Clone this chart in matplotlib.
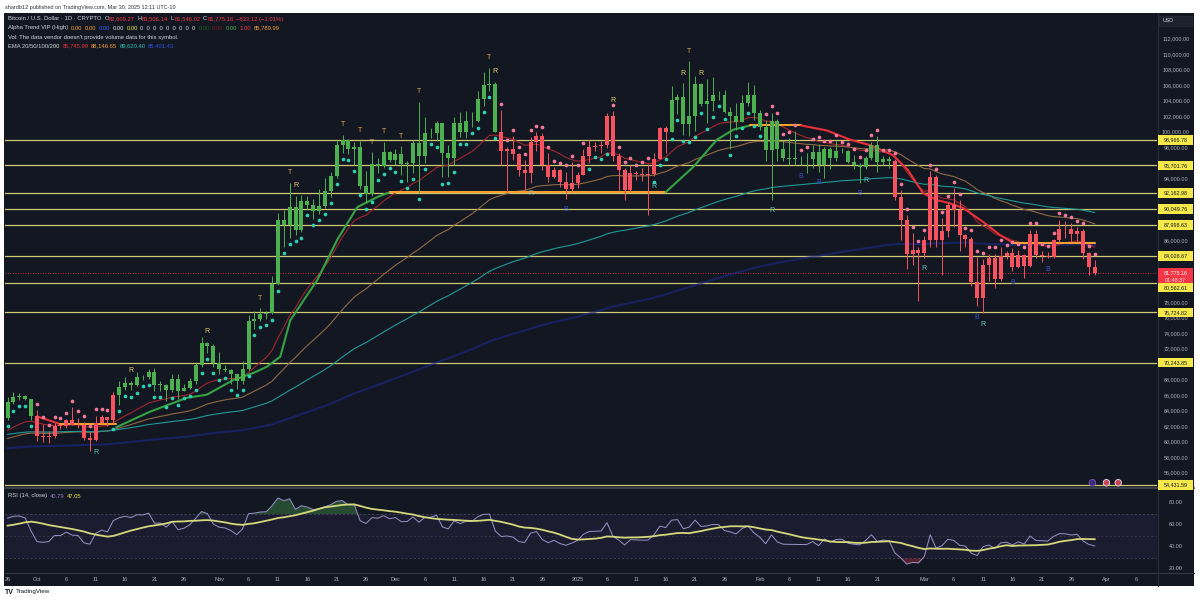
import numpy as np
import pandas as pd
import matplotlib
matplotlib.use('Agg')
import matplotlib.pyplot as plt
from matplotlib.patches import Rectangle
from matplotlib.lines import Line2D
from matplotlib.transforms import blended_transform_factory

plt.rcParams['font.family'] = ['Liberation Sans', 'DejaVu Sans']

# daily closes Aug 29 - Sep 25 2024, only used to warm up RSI / EMA
warmup_closes = [59370, 59120, 58970, 57330, 59120, 57480, 57970, 56160, 53960, 54140,
                 54840, 57020, 57650, 57340, 58130, 60570, 60010, 59130, 58210, 60310,
                 61760, 62950, 63190, 63350, 63580, 63340, 64280, 63140]

# BTCUSD 1D, Sep 26 2024 -> Mar 30 2025 (open = previous close)
closes = [
    65180, 65790, 65890, 65600, 63330,
    60800, 60630, 60750, 62080, 62060, 62820, 62220, 62130, 60580, 60270,
    62440, 63200, 62850, 66050, 67040, 67610, 67380, 68400, 68360, 69000,
    67360, 67370, 66680, 68160, 66640, 67010, 67930, 69900, 72720, 72340, 70220,
    69480, 69330, 68740, 67810, 69360, 75640, 75900, 76540, 76680, 80370,
    88700, 87950, 90380, 87300, 91060, 90580, 89850, 90460, 92340, 94340,
    98360, 98990, 97780, 98010, 93010, 91960, 95860, 95640, 97460, 96410,
    97190, 95840, 95950, 98580, 96890, 99830, 99920, 101170, 97320, 96590,
    101120, 100040, 101460, 101370, 104300, 106030, 106140, 100040, 97490, 97750,
    97220, 95100, 94690, 98680, 99430, 95790, 94160, 95160, 93530, 92640, 93430,
    94420, 96890, 98110, 98230, 98310, 102080, 96920, 95040, 92480, 94700,
    94570, 94490, 94520, 96530, 100500, 99990, 104080, 104460, 101090, 102020,
    106150, 103650, 103960, 104820, 104710, 102590, 102080, 101320, 103700, 104740, 102410,
    100650, 97690, 101400, 97870, 96620, 96550, 96530, 96480, 96500, 97400,
    95750, 97870, 96620, 97500, 97570, 96130, 95770, 95540, 96640, 98330,
    96120, 96560, 96270, 91550, 88690, 84250, 84710, 84370,
    86030, 94250, 86120, 87220, 90620, 89960, 86740, 86150, 80600, 78530,
    82860, 83720, 81070, 83970, 84340, 82580, 84080, 82720, 86850, 84170,
    84040, 83830, 86080, 87500, 87420, 86900, 87230, 84350, 82609.27, 81775.16,
]
highs = [
    65800, 66480, 66260, 66080, 65600,
    64130, 62370, 61450, 62450, 62360, 62980, 64470, 63150, 62540, 61300,
    63400, 63480, 63290, 66490, 67890, 68390, 67930, 68970, 68680, 69380,
    69510, 67820, 67440, 68800, 68750, 67420, 68220, 70200, 73560, 72940, 72660,
    71590, 69890, 69390, 68860, 70510, 76400, 76850, 77230, 76960, 81480,
    89560, 89950, 93430, 91760, 91850, 91760, 91400, 92600, 94000, 94890,
    98960, 99660, 99100, 98670, 98900, 94990, 97380, 96600, 98700, 97600,
    97850, 98150, 96300, 99000, 103900, 101900, 100500, 101380, 101200, 98300,
    101900, 102540, 102650, 102600, 105230, 107780, 108270, 106500, 102790, 98120,
    99500, 97320, 96400, 99400, 99960, 99900, 97300, 95500, 95200, 94900, 96100,
    94900, 97800, 98950, 98730, 98800, 102480, 102700, 97250, 95350, 95800,
    94980, 95350, 95880, 97350, 100700, 100800, 105900, 104900, 106300, 109100,
    107200, 106300, 106850, 107100, 105300, 105470, 103200, 103800, 104800, 106450, 106000,
    102800, 101500, 102500, 101700, 99000, 99200, 100100, 96880, 97300, 98300,
    98500, 98100, 98000, 98800, 97950, 97700, 97000, 96000, 96900, 98750,
    99500, 96900, 96900, 96500, 92500, 89300, 87000, 85100,
    86550, 95000, 94400, 88900, 91000, 92800, 91200, 86850, 86500, 83900,
    83600, 84300, 84300, 85200, 84650, 85000, 84750, 84300, 87400, 87400,
    84700, 84500, 86200, 88700, 88500, 88200, 87700, 87500, 84500, 83506.14,
]
lows = [
    62900, 64850, 65450, 65440, 62850,
    60170, 59990, 59840, 60460, 61670, 61820, 62130, 61830, 60300, 58900,
    60070, 62400, 62060, 62430, 64820, 66720, 66670, 67180, 68030, 68100,
    66580, 66570, 65260, 66500, 65510, 66520, 66780, 67450, 69740, 71480, 69690,
    68800, 69050, 67490, 66830, 67460, 69300, 74560, 75600, 75840, 76520,
    80230, 85180, 86300, 86700, 87100, 90100, 88800, 89420, 90200, 91600,
    94080, 97290, 97140, 95790, 92630, 90800, 91800, 94650, 95380, 96100,
    95690, 94500, 93600, 94690, 92120, 95990, 99280, 98890, 94150, 94250,
    95700, 99300, 99240, 100650, 101300, 103320, 105300, 100000, 95700, 92230,
    96400, 94300, 92500, 93420, 97580, 95150, 93500, 94100, 92950, 91350, 92300,
    92800, 94400, 96000, 97550, 97300, 97960, 96200, 92500, 91200, 92200,
    93850, 93700, 89260, 94320, 96500, 97300, 99950, 102300, 99600, 99500,
    100100, 103300, 101200, 102750, 104100, 102460, 97800, 100270, 101300, 103300, 101600,
    100300, 96200, 91230, 96200, 96200, 95700, 95700, 95700, 94750, 95300,
    94900, 94100, 95250, 96300, 97250, 96050, 95250, 93400, 95200, 96450,
    94850, 95800, 95300, 91200, 86100, 82300, 82800, 78200,
    83800, 85100, 85100, 81500, 86400, 87800, 84700, 85100, 80100, 77500,
    76600, 80800, 79900, 80800, 83650, 82000, 82450, 81200, 82600, 83700,
    83200, 83700, 83800, 85800, 86300, 85900, 85900, 83600, 81600, 81546.02,
]

# bar colouring of the Alpha Trend script (index of first day of each run)
trend_starts = [0, 5, 19, 84, 113, 151]
trend_colors = ['g', 'r', 'g', 'r', 'g', 'r']
dot_starts = [0, 5, 18, 84, 99, 103, 110, 129]
dot_sides = ['below', 'above', 'below', 'above', 'below', 'above', 'below', 'above']

levels = [98966.78, 95701.76, 92162.98, 90049.76, 87998.63, 84028.67,
          80562.61, 76724.82, 70243.85, 54431.59]

signal_days = [15, 21, 34, 43, 48, 49, 57, 60, 62, 64, 67, 70, 82, 83, 89, 95,
               103, 110, 115, 116, 118, 130, 135, 138, 145, 146, 156, 165, 166, 171, 177]
signal_kinds = ['Rt', 'Ry', 'Ry', 'T', 'T', 'Ry', 'T', 'T', 'T', 'T', 'T', 'T', 'T', 'Ry', 'Rg', 'B',
                'Ry', 'Rt', 'Ry', 'T', 'Ry', 'Rt', 'B', 'B', 'B', 'Rt', 'Rt', 'B', 'Rt', 'B', 'B']

# Alpha Trend line: (colour, day index, price)
at_red1_days, at_red1_px = [5, 9], [63300, 62300]
at_org1_days, at_org1_px = [9, 18.5], [62300, 62300]
at_grn1_days = [18.5, 24.2, 30.5, 33.9, 38.4, 41.8, 44.1, 46.4, 48.1, 52.7, 56.1, 59.5, 62.9, 65.1]
at_grn1_px = [61900, 63900, 65700, 66100, 68000, 68900, 69700, 71000, 75700, 80900, 86100, 90300, 91600, 92250]
at_org2_days, at_org2_px = [65.1, 112], [92250, 92250]
at_grn2_days, at_grn2_px = [112, 116.7, 120.7, 123.5, 126.4], [92250, 95500, 99000, 100300, 100850]
at_org3_days, at_org3_px = [126.4, 135], [100850, 100850]
at_red2_days = [135, 139.4, 143.4, 146.8, 150.7, 153.2, 155.8, 158.2, 160.4, 162.6, 166.0, 168.9, 171.1]
at_red2_px = [100850, 100200, 99000, 98300, 97000, 95100, 92100, 91200, 90800, 90200, 88400, 86700, 85700]
at_org4_days, at_org4_px = [171.1, 185], [85700, 85700]

ema_spans = [20, 50, 100, 200]
ema_seeds = [60000, 60600, 61800, 59000]

tick_days = [0, 5, 10, 15, 20, 25, 30, 36, 41, 46, 51, 56, 61, 66, 71, 76, 81, 86, 91,
             97, 102, 107, 112, 117, 122, 128, 133, 138, 143, 148, 156, 161, 166, 171,
             176, 181, 187, 192]
tick_text = ['26', 'Oct', '6', '11', '16', '21', '26', 'Nov', '6', '11', '16', '21', '26',
             'Dec', '6', '11', '16', '21', '26', '2025', '6', '11', '16', '21', '26',
             'Feb', '6', '11', '16', '21', 'Mar', '6', '11', '16', '21', '26', 'Apr', '6']
price_ticks = list(range(112000, 55999, -2000))
rsi_ticks = [80, 60, 40, 20]
event_days = [184.6, 187.0, 189.0]

# ---- styling ----
W, H = 1200, 603
BG = '#131722'
GREEN = '#4caf50'
RED = '#f7525f'
LEVEL = '#cfc872'
TXT = '#b2b5be'
LEG = '#d1d4dc'
EMA_COLORS = ['#a3262e', '#8f6a45', '#1f9a96', '#1c2a8c']
AT_COLORS = {'g': '#35a344', 'o': '#f5a030', 'r': '#e8313b'}
SIG_STYLE = {'T': ('T', '#d9a95a', 'above'), 'Ry': ('R', '#e3d06a', 'above'),
             'Rt': ('R', '#5fc9bd', 'below'), 'Rg': ('R', '#8fb3ae', 'below'),
             'B': ('B', '#3553d0', 'below')}


def frame(x0, y0, x1, y1):
    return [x0 / W, 1 - y1 / H, (x1 - x0) / W, (y1 - y0) / H]


def ftext(x, y, s, color=TXT, size=4.2, **kw):
    return fig.text(x / W, 1 - y / H, s, color=color, fontsize=size, va='center', **kw)


def seq_text(x, y, parts, size=4.2):
    # lay out coloured pieces one after another, measuring each
    r = fig.canvas.get_renderer()
    for txt, col, gap in parts:
        t = ftext(x, y, txt, color=col, size=size)
        x += t.get_window_extent(renderer=r).width + gap


fig = plt.figure(figsize=(12, 6.03), dpi=100)
fig.patch.set_facecolor('white')
fig.add_artist(Rectangle((4 / W, 1 - 586 / H), 1190 / W, 573 / H, transform=fig.transFigure,
                         fc=BG, ec='none', zorder=-5))

ax = fig.add_axes(frame(5, 14, 1157, 487))
ax_r = fig.add_axes(frame(5, 489, 1157, 572))
for a in (ax, ax_r):
    a.set_facecolor(BG)
    a.set_xticks([])
    a.set_yticks([])
    for s in a.spines.values():
        s.set_visible(False)
    a.set_xlim(-0.44, 195.6)
ax.set_ylim(54193.5, 115225.8)
ax_r.set_ylim(17.27, 92.7)

# separators
fig.add_artist(Line2D([5 / W, 1194 / W], [1 - 488 / H] * 2, color='#434651', lw=1.2))
fig.add_artist(Line2D([5 / W, 1194 / W], [1 - 572.5 / H] * 2, color='#363a45', lw=0.8))
fig.add_artist(Line2D([1157.5 / W] * 2, [1 - 14 / H, 1 - 586 / H], color='#2a2e39', lw=0.8))

# ---- derived series ----
n = len(closes)
days = np.arange(n)
c = np.array(closes, dtype=float)
o = np.array([warmup_closes[-1]] + closes[:-1], dtype=float)
h = np.maximum(np.array(highs, dtype=float), np.maximum(o, c))
l = np.minimum(np.array(lows, dtype=float), np.minimum(o, c))

trend = np.empty(n, dtype=object)
for start, col in zip(trend_starts, trend_colors):
    trend[start:] = col
cols = [GREEN if t == 'g' else RED for t in trend]

side = np.empty(n, dtype=object)
for start, sd in zip(dot_starts, dot_sides):
    side[start:] = sd

all_closes = np.array(warmup_closes + closes, dtype=float)
nw = len(warmup_closes)


def ema(values, span, seed):
    k = 2.0 / (span + 1)
    out, e = [], seed
    for v in values:
        e = e + k * (v - e)
        out.append(e)
    return np.array(out)


s = pd.Series(all_closes)
delta = s.diff()
gain = delta.clip(lower=0).ewm(alpha=1 / 14, adjust=False).mean()
loss = (-delta.clip(upper=0)).ewm(alpha=1 / 14, adjust=False).mean()
rsi_all = 100 - 100 / (1 + gain / loss)
rsi_ma_all = rsi_all.rolling(14, min_periods=1).mean()
rsi = rsi_all.values[nw:]
rsi_ma = rsi_ma_all.values[nw:]

# ---- main pane ----
for lv in levels:
    ax.axhline(lv, color=LEVEL, lw=0.9, zorder=2)
ax.axhline(c[-1], color='#f23645', lw=0.6, ls=(0, (1, 2)), zorder=2)

emas = []
for span, seed, col in zip(ema_spans, ema_seeds, EMA_COLORS):
    e = ema(all_closes, span, seed)[nw:]
    emas.append(e)
    if span == 200:
        ax.plot(days, e, color=col, lw=1.5, alpha=0.6, zorder=2.4)
    else:
        ax.plot(days, e, color=col, lw=0.8, zorder=2.5)

for key, ds, ps in [('r', at_red1_days, at_red1_px), ('o', at_org1_days, at_org1_px),
                    ('g', at_grn1_days, at_grn1_px), ('o', at_org2_days, at_org2_px),
                    ('g', at_grn2_days, at_grn2_px), ('o', at_org3_days, at_org3_px),
                    ('r', at_red2_days, at_red2_px), ('o', at_org4_days, at_org4_px)]:
    ax.plot(ds, ps, color=AT_COLORS[key], lw=1.5, zorder=3, solid_capstyle='round')

ax.vlines(days, l, h, colors=cols, lw=0.7, zorder=4)
body_lo = np.minimum(o, c)
body_h = np.maximum(np.abs(c - o), 80)
ax.bar(days, body_h, bottom=body_lo, width=0.68, color=cols, lw=0, zorder=5)

below = side == 'below'
ax.scatter(days[below], l[below] - 800, s=7, color='#2bd1b0', lw=0, zorder=6)
ax.scatter(days[~below], h[~below] + 800, s=7, color='#f27a99', lw=0, zorder=6)

for d, kind in zip(signal_days, signal_kinds):
    letter, col, pos = SIG_STYLE[kind]
    if pos == 'above':
        ax.text(d, h[d] + 1300, letter, color=col, fontsize=5, ha='center', va='center', zorder=7)
    else:
        ax.text(d, l[d] - 1400, letter, color=col, fontsize=5, ha='center', va='center', zorder=7)

ev_tr = blended_transform_factory(ax.transData, ax.transAxes)
ax.scatter(event_days, [0.009] * 3, transform=ev_tr, s=22, c=['#3b2a7a', '#c94456', '#c94456'],
           edgecolors=['#7e57c2', '#e8e8f0', '#e8e8f0'], linewidths=0.6, zorder=8, clip_on=False)

# ---- RSI pane ----
ax_r.axhspan(30, 70, color='#7e57c2', alpha=0.09, lw=0)
for lvl, a in [(70, 0.6), (50, 0.35), (30, 0.6)]:
    ax_r.axhline(lvl, color='#787b86', lw=0.5, ls=(0, (3, 3)), alpha=a)
ax_r.fill_between(days, 70, rsi, where=rsi > 70, interpolate=True, color='#4caf50', alpha=0.35, lw=0)
ax_r.fill_between(days, 30, rsi, where=rsi < 30, interpolate=True, color='#f23645', alpha=0.3, lw=0)
ax_r.plot(days, rsi, color='#9a94c8', lw=0.7, zorder=3)
ax_r.plot(days, rsi_ma, color='#d6d87c', lw=1.3, zorder=4)

# ---- axes labels ----
fig.canvas.draw()
for p in price_ticks:
    yd = ax.transData.transform((0, p))[1]
    fig.text(1176 / W, yd / H, f'{p:,.2f}', color=TXT, fontsize=3.9, ha='center', va='center', zorder=5)
for v in rsi_ticks:
    yd = ax_r.transData.transform((0, v))[1]
    fig.text(1176 / W, yd / H, f'{v:.2f}', color=TXT, fontsize=3.9, ha='center', va='center', zorder=5)

label_shift_px = {80562.61: 5}
for lv in levels:
    yd = ax.transData.transform((0, lv))[1] - label_shift_px.get(lv, 0)
    fig.add_artist(Rectangle((1158 / W, (yd - 4.8) / H), 35 / W, 9.6 / H, transform=fig.transFigure,
                             fc='#f5e84a', ec='none', zorder=6))
    fig.text(1175.5 / W, yd / H, f'{lv:,.2f}', color='#131722', fontsize=3.9,
             ha='center', va='center', zorder=7)

yd = ax.transData.transform((0, c[-1]))[1]
fig.add_artist(Rectangle((1158 / W, (yd - 10) / H), 35 / W, 15.5 / H, transform=fig.transFigure,
                         fc='#f23645', ec='none', zorder=6))
fig.text(1175.5 / W, yd / H, f'{c[-1]:,.2f}', color='white', fontsize=3.9, ha='center', va='center', zorder=7)
fig.text(1175.5 / W, (yd - 7) / H, '01:48:37', color='#fde0e3', fontsize=3.9, ha='center', va='center', zorder=7)

tt = blended_transform_factory(ax_r.transData, ax_r.transAxes)
for d, txt in zip(tick_days, tick_text):
    ax_r.text(d, -0.085, txt, transform=tt, color=TXT, fontsize=4, ha='center', va='center', clip_on=False)

fig.add_artist(Rectangle((1159 / W, 1 - 26 / H), 33 / W, 10 / H, transform=fig.transFigure,
                         fc='#1e222d', ec='#2a2e39', lw=0.5, zorder=6))
ftext(1163, 21, 'USD', color=LEG, size=3.8, zorder=7)

# ---- legends ----
ftext(5, 7, 'shardb12 published on TradingView.com, Mar 30, 2025 12:11 UTC-10', color='#333333', size=4)
RD = '#f23645'
seq_text(8, 19, [('Bitcoin / U.S. Dollar · 1D · CRYPTO', LEG, 3),
                 ('O', LEG, 0.3), ('82,609.27', RD, 2.5), ('H', LEG, 0.3), ('83,506.14', RD, 2.5),
                 ('L', LEG, 0.3), ('81,546.02', RD, 2.5), ('C', LEG, 0.3), ('81,775.16', RD, 2.5),
                 ('−833.12 (−1.01%)', RD, 0)])
seq_text(8, 28, [('Alpha Trend VIP (High)', LEG, 3), ('0.00', '#f5a030', 2.5), ('0.00', '#f5a030', 2.5),
                 ('0.00', '#2962ff', 2.5), ('0.00', '#e0e3eb', 2.5), ('0.00', '#f5e84a', 2.5),
                 ('0  0  0  0  0  0  0  0  0', LEG, 2.5), ('0.00', '#1b5e20', 2.5), ('0.00', '#7a1e26', 2.5),
                 ('0.00', '#4caf50', 2.5), ('1.00', RD, 2.5), ('85,789.99', '#f5a030', 0)])
ftext(8, 37, "Vol: The data vendor doesn't provide volume data for this symbol.", color=LEG)
seq_text(8, 46, [('EMA 20/50/100/200', LEG, 3), ('85,745.99', '#e8313b', 2.5), ('88,146.65', '#f5a030', 2.5),
                 ('89,620.40', '#26c6b0', 2.5), (f'{emas[3][-1]:,.2f}', '#2e4fe0', 0)])

seq_text(8, 496, [('RSI (14, close)', LEG, 3), ('40.79', '#9575cd', 2.5), ('47.05', '#f5e84a', 0)])

ftext(5, 592, 'TV', color='#131722', size=5, fontweight='bold')
ftext(16, 592, 'TradingView', color='#131722', size=4.5)

fig.savefig('out.png', dpi=100, facecolor='white')
